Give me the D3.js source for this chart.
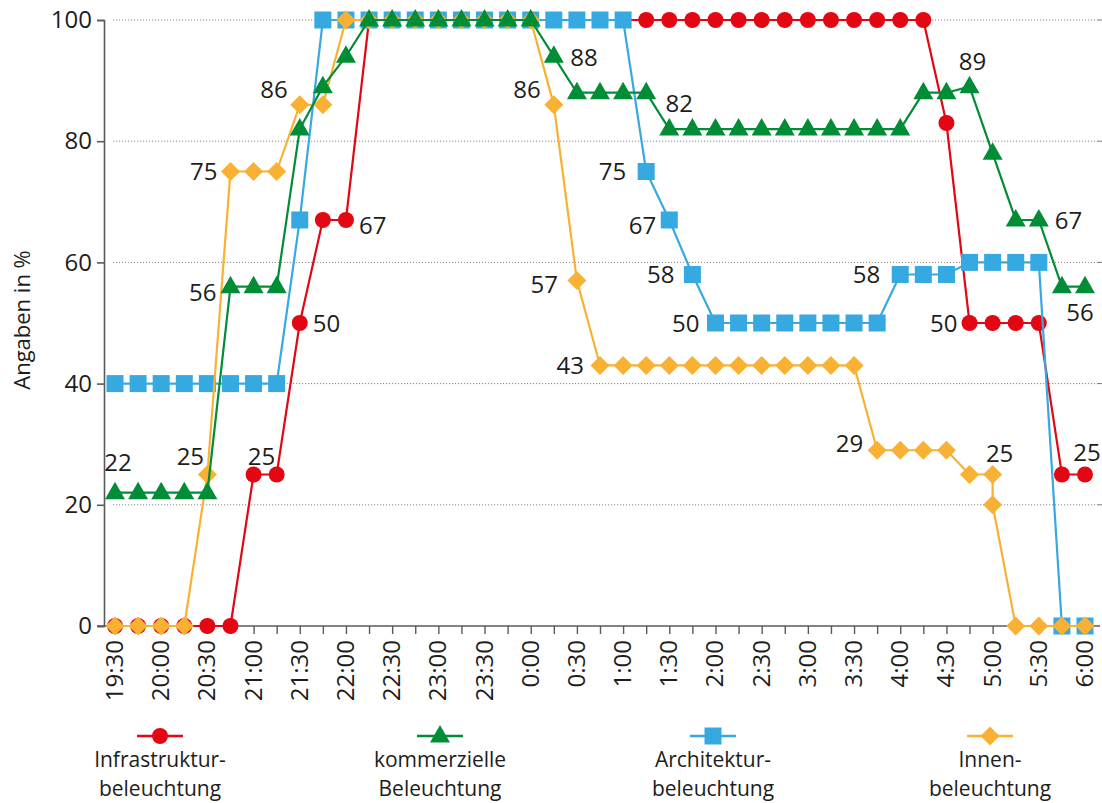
<!DOCTYPE html>
<html><head><meta charset="utf-8">
<script src="https://cdn.jsdelivr.net/npm/d3@7"></script>
<style>
html,body{margin:0;padding:0;background:#fff;}
svg{display:block;font-family:"Open Sans","Noto Sans",sans-serif;}
</style></head>
<body><svg id="c" width="1102" height="803"></svg>
<script>
// ---------- DATA ----------
const times = ["19:30","19:45","20:00","20:15","20:30","20:45","21:00","21:15","21:30","21:45","22:00","22:15","22:30","22:45","23:00","23:15","23:30","23:45","0:00","0:15","0:30","0:45","1:00","1:15","1:30","1:45","2:00","2:15","2:30","2:45","3:00","3:15","3:30","3:45","4:00","4:15","4:30","4:45","5:00","5:15","5:30","5:45","6:00"];
const timesInnen = ["19:30","19:45","20:00","20:15","20:30","20:45","21:00","21:15","21:30","21:45","22:00","22:15","22:30","22:45","23:00","23:15","23:30","23:45","0:00","0:15","0:30","0:45","1:00","1:15","1:30","1:45","2:00","2:15","2:30","2:45","3:00","3:15","3:30","3:45","4:00","4:15","4:30","4:45","5:00","5:00","5:15","5:30","5:45","6:00"];
const tickLabels = ["19:30","20:00","20:30","21:00","21:30","22:00","22:30","23:00","23:30","0:00","0:30","1:00","1:30","2:00","2:30","3:00","3:30","4:00","4:30","5:00","5:30","6:00"];
const yTicks = [0,20,40,60,80,100];

const infrastruktur = [0,0,0,0,0,0,25,25,50,67,67,100,100,100,100,100,100,100,100,100,100,100,100,100,100,100,100,100,100,100,100,100,100,100,100,100,83,50,50,50,50,25,25];
const kommerziell = [22,22,22,22,22,56,56,56,82,89,94,100,100,100,100,100,100,100,100,94,88,88,88,88,82,82,82,82,82,82,82,82,82,82,82,88,88,89,78,67,67,56,56];
const architektur = [40,40,40,40,40,40,40,40,67,100,100,100,100,100,100,100,100,100,100,100,100,100,100,75,67,58,50,50,50,50,50,50,50,50,58,58,58,60,60,60,60,0,0];
const innen = [0,0,0,0,25,75,75,75,86,86,100,100,100,100,100,100,100,100,100,86,57,43,43,43,43,43,43,43,43,43,43,43,43,29,29,29,29,25,25,20,0,0,0,0];

const legendNames = [["Infrastruktur-","beleuchtung"],["kommerzielle","Beleuchtung"],["Architektur-","beleuchtung"],["Innen-","beleuchtung"]];

// ---------- LAYOUT / STYLE ----------
const colors = {red:"#e30613", green:"#008d36", blue:"#36a9e1", orange:"#f8b133"};
const series = [
  {key:"red", t:times, v:infrastruktur, shape:"circle", legend:0},
  {key:"blue", t:times, v:architektur, shape:"square", legend:2},
  {key:"orange", t:timesInnen, v:innen, shape:"diamond", legend:3},
  {key:"green", t:times, v:kommerziell, shape:"triangle", legend:1}
];
// [series, point index, anchor, dx, dy]
const dataLabels = [
 ["red",6,"middle",8,-18],["red",8,"start",13,0],["red",10,"start",13,5],["red",37,"end",-12,0],["red",42,"middle",2,-22],
 ["green",0,"middle",3,-30],["green",5,"end",-14,6],["green",20,"middle",7,-35],["green",24,"middle",10,-26],["green",37,"middle",3,-25],["green",40,"start",16,0],["green",42,"middle",-5,26],
 ["blue",23,"end",-20,0],["blue",24,"end",-13,5],["blue",25,"end",-18,0],["blue",26,"end",-16,0],["blue",34,"end",-20,0],
 ["orange",4,"middle",-17,-18],["orange",5,"end",-13,0],["orange",8,"end",-12,-15],["orange",19,"end",-13,-15],["orange",20,"end",-19,4],["orange",21,"end",-16,0],["orange",33,"end",-14,-7],["orange",38,"middle",7,-21]
];

const toMin = t => { const [h,m] = t.split(":").map(Number); return ((h*60+m) - (19*60+30) + 1440) % 1440; };

const svg = d3.select("#c");
const x = d3.scaleLinear().domain([0, toMin("6:00")]).range([115, 1085]);
const y = d3.scaleLinear().domain([0,100]).range([626, 20]);
const textColor = "#1d1d1b";

// gridlines
svg.append("g").selectAll("line").data(yTicks.filter(d=>d>0)).join("line")
  .attr("x1",113).attr("x2",1097).attr("y1",d=>y(d)).attr("y2",d=>y(d))
  .attr("stroke","#8a8a8a").attr("stroke-width",1).attr("stroke-dasharray","1.2,1.8");
svg.append("g").selectAll("line").data(yTicks.filter(d=>d>0)).join("line")
  .attr("x1",1097).attr("x2",1102).attr("y1",d=>y(d)).attr("y2",d=>y(d))
  .attr("stroke","#777").attr("stroke-width",1);

// y axis
const yAxis = svg.append("g").attr("transform","translate(104,0)")
  .call(d3.axisLeft(y).tickValues(yTicks).tickSize(7).tickPadding(5));
yAxis.select(".domain").attr("stroke","#5a5a5a").attr("stroke-width",1.6);
yAxis.selectAll(".tick line").attr("stroke","#5a5a5a").attr("stroke-width",1.6);
yAxis.selectAll("text").attr("font-size",24).attr("fill",textColor).attr("font-family","Open Sans");

svg.append("text").attr("transform","translate(30,320) rotate(-90)")
  .attr("text-anchor","middle").attr("font-size",22).attr("fill",textColor).text("Angaben in %");

// x axis
const xg = svg.append("g").attr("transform","translate(0,626)");
xg.append("line").attr("x1",97).attr("x2",1100).attr("stroke","#5a5a5a").attr("stroke-width",1.6);
const xAxis = d3.axisBottom(x).tickValues(times.map(toMin)).tickSize(8).tickFormat("");
const xa = xg.append("g").call(xAxis);
xa.select(".domain").remove();
xa.selectAll(".tick line").attr("stroke","#5a5a5a").attr("stroke-width",1.4);
xg.selectAll("text.xl").data(tickLabels).join("text").attr("class","xl")
  .attr("transform",d=>`translate(${x(toMin(d))+8},14) rotate(-90)`)
  .attr("text-anchor","end").attr("font-size",24).attr("fill",textColor).text(d=>d);

// markers
function marker(sel, shape, color){
  if(shape==="circle") sel.append("circle").attr("r",8).attr("fill",color);
  else if(shape==="square") sel.append("rect").attr("x",-8.5).attr("y",-8.5).attr("width",17).attr("height",17).attr("fill",color);
  else if(shape==="diamond") sel.append("path").attr("d","M0,-9.5L9.5,0L0,9.5L-9.5,0Z").attr("fill",color);
  else if(shape==="triangle") sel.append("path").attr("d","M0,-11L10,6.5L-10,6.5Z").attr("fill",color);
}

const line = d3.line();
series.forEach(s=>{
  const pts = s.v.map((v,i)=>[x(toMin(s.t[i])), y(v)]);
  const g = svg.append("g");
  g.append("path").attr("d",line(pts)).attr("fill","none").attr("stroke",colors[s.key]).attr("stroke-width",2.2);
  pts.forEach(p=>{
    const m = g.append("g").attr("transform",`translate(${p[0]},${p[1]})`);
    marker(m, s.shape, colors[s.key]);
  });
});

// data labels
const byKey = Object.fromEntries(series.map(s=>[s.key,s]));
svg.append("g").selectAll("text").data(dataLabels).join("text")
  .attr("x",d=>x(toMin(byKey[d[0]].t[d[1]]))+d[3])
  .attr("y",d=>y(byKey[d[0]].v[d[1]])+d[4])
  .attr("dy","0.36em").attr("text-anchor",d=>d[2])
  .attr("font-size",24).attr("fill",textColor)
  .text(d=>byKey[d[0]].v[d[1]]);

// legend
const legendX = [160, 440, 713, 990];
const legendOrder = ["red","green","blue","orange"];
legendOrder.forEach((k,i)=>{
  const s = byKey[k];
  const g = svg.append("g").attr("transform",`translate(${legendX[i]},736)`);
  g.append("line").attr("x1",-23).attr("x2",23).attr("stroke",colors[k]).attr("stroke-width",2.5);
  marker(g, s.shape, colors[k]);
  legendNames[s.legend].forEach((t,j)=>{
    g.append("text").attr("y",31+j*29).attr("text-anchor","middle")
      .attr("font-size",21).attr("fill",textColor).text(t);
  });
});
</script>
</body></html>
